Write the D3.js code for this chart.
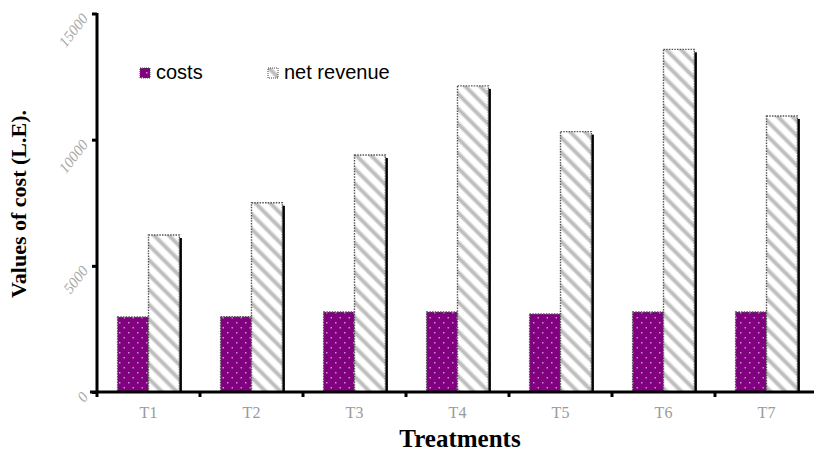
<!DOCTYPE html>
<html><head><meta charset="utf-8">
<script src="https://cdn.jsdelivr.net/npm/d3@7"></script>
<style>body{margin:0;background:#fff}svg{display:block}</style>
</head><body>
<svg id="c" width="814" height="460"></svg>
<script>
const categories = ["T1","T2","T3","T4","T5","T6","T7"];
const costs = [2970, 2980, 3170, 3170, 3090, 3170, 3170];
const netRevenue = [6220, 7500, 9390, 12130, 10320, 13580, 10940];
const yTicks = [0, 5000, 10000, 15000];
const seriesNames = ["costs", "net revenue"];

const svg = d3.select("#c");
const defs = svg.append("defs");

// dotted purple pattern
const pd = defs.append("pattern").attr("id","dots").attr("patternUnits","userSpaceOnUse")
  .attr("width",9).attr("height",10);
pd.append("rect").attr("width",9).attr("height",10).attr("fill","#800080");
pd.append("rect").attr("x",2).attr("y",2).attr("width",1.5).attr("height",1.5).attr("fill","#c890c8");
pd.append("rect").attr("x",6.5).attr("y",7).attr("width",1.5).attr("height",1.5).attr("fill","#c890c8");

// diagonal stripes pattern
const ps = defs.append("pattern").attr("id","stripes").attr("patternUnits","userSpaceOnUse")
  .attr("width",10.5).attr("height",10.5).attr("patternTransform","rotate(-45)");
ps.append("rect").attr("width",10.5).attr("height",10.5).attr("fill","#fff");
ps.append("rect").attr("x",3).attr("width",5).attr("height",10.5).attr("fill","#e2e2e2");
ps.append("rect").attr("x",4).attr("width",3).attr("height",10.5).attr("fill","#bdbdbd");

const x0 = d3.scaleBand().domain(categories).range([97, 818]).paddingInner(0.4).paddingOuter(0.2);
const x1 = d3.scaleBand().domain(seriesNames).range([0, x0.bandwidth()]);
const y = d3.scaleLinear().domain([0, 15000]).range([392, 13.5]);

const fills = {"costs":"url(#dots)", "net revenue":"url(#stripes)"};
const data = categories.map((c,i)=>({c, vals:[{k:"costs",v:costs[i]},{k:"net revenue",v:netRevenue[i]}]}));

const g = svg.append("g");
data.forEach(d=>{
  const nr = d.vals[1];
  g.append("rect").attr("x", x0(d.c)+x1(nr.k)+2.5).attr("y", y(nr.v)+3)
    .attr("width", x1.bandwidth()).attr("height", y(0)-y(nr.v)-3).attr("fill","#000");
});
data.forEach(d=>{
  d.vals.forEach(s=>{
    g.append("rect").attr("x", x0(d.c)+x1(s.k)).attr("y", y(s.v))
      .attr("width", x1.bandwidth()).attr("height", y(0)-y(s.v))
      .attr("fill", fills[s.k]).attr("stroke","#555").attr("stroke-width",1.4)
      .attr("stroke-dasharray","1.5,1.2");
  });
});

// X axis
const xAxis = d3.axisBottom(x0).tickSize(0).tickPadding(15);
const gx = svg.append("g").attr("transform","translate(0,392)").call(xAxis);
gx.select(".domain").remove();
gx.append("line").attr("x1",90).attr("x2",814).attr("y1",0).attr("y2",0).attr("stroke","#000").attr("stroke-width",3);
categories.forEach((c,i)=>{
  const bx = x0.range()[0] + i*x0.step();
  gx.append("line").attr("x1",bx).attr("x2",bx).attr("y1",0).attr("y2",5).attr("stroke","#000").attr("stroke-width",3);
});
gx.selectAll(".tick text").attr("font-family","Liberation Serif, serif").attr("font-size",16).attr("fill","#9a9a9a");

// Y axis
const yAxis = d3.axisLeft(y).tickValues(yTicks).tickSize(5).tickFormat(d3.format("d"));
const gy = svg.append("g").attr("transform","translate(97,0)").call(yAxis);
gy.select(".domain").attr("stroke-width",3).attr("d","M0,392V13");
gy.selectAll(".tick line").attr("stroke-width",3);
gy.selectAll(".tick text").attr("font-family","Liberation Serif, serif").attr("font-size",15)
  .attr("font-style","italic").attr("fill","#aaa").attr("text-anchor","end")
  .attr("x",-14).attr("dy","0.5em").attr("transform","rotate(-52,-14,0)");

// Axis titles
svg.append("text").attr("x",460).attr("y",447).attr("text-anchor","middle")
  .attr("font-family","Liberation Serif, serif").attr("font-weight","bold").attr("font-size",25).text("Treatments");
svg.append("text").attr("transform","translate(26,204) rotate(-90)").attr("text-anchor","middle")
  .attr("font-family","Liberation Serif, serif").attr("font-weight","bold").attr("font-size",22).text("Values of cost (L.E).");

// Legend
const legX = [140, 268];
seriesNames.forEach((s,i)=>{
  svg.append("rect").attr("x",legX[i]).attr("y",68).attr("width",10).attr("height",10)
    .attr("fill",fills[s]).attr("stroke","#444").attr("stroke-width",1).attr("stroke-dasharray","1,1");
  svg.append("text").attr("x",legX[i]+16).attr("y",79).attr("font-family","Liberation Sans, Arial, sans-serif")
    .attr("font-size",20).text(s);
});
</script>
</body></html>
